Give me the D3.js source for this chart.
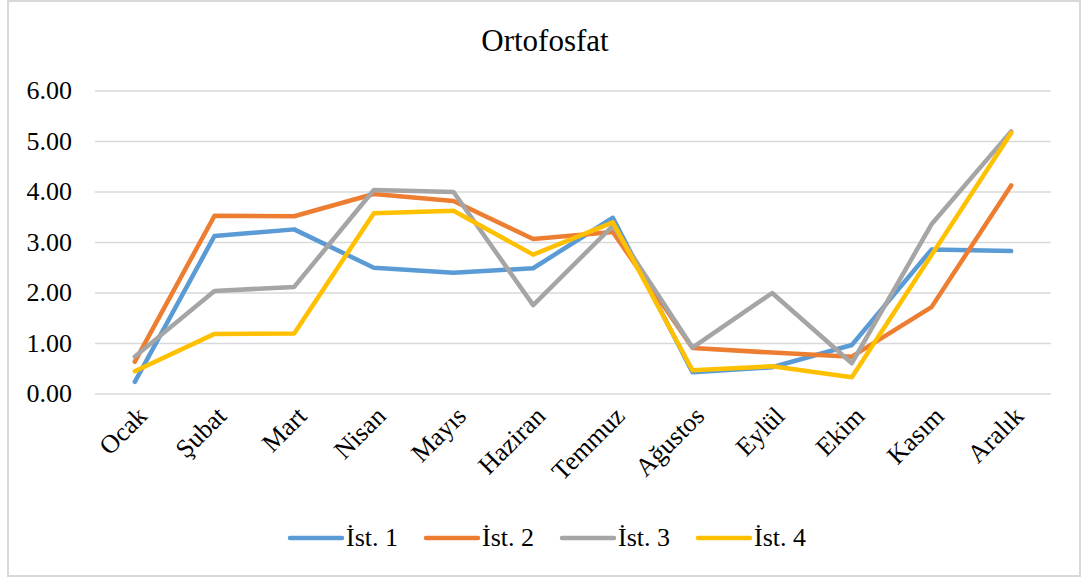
<!DOCTYPE html>
<html>
<head>
<meta charset="utf-8">
<script src="https://cdn.jsdelivr.net/npm/d3@7"></script>
<style>
  body { margin: 0; background: #fff; }
  #wrap { position: relative; width: 1084px; height: 578px; }
  #wrap svg { position: absolute; left: 0; top: 0; }
  .lbl {
    position: absolute;
    height: 0;
    line-height: 0;
    white-space: nowrap;
    font-family: 'Liberation Serif', 'Times New Roman', serif;
    color: #000;
  }
</style>
</head>
<body>
<div id="wrap"><svg id="chart" width="1084" height="578"></svg></div>
<script>
// months on the x axis
var months = ['Ocak', 'Şubat', 'Mart', 'Nisan', 'Mayıs', 'Haziran', 'Temmuz', 'Ağustos', 'Eylül', 'Ekim', 'Kasım', 'Aralık']
var seriesNames = ['İst. 1', 'İst. 2', 'İst. 3', 'İst. 4']
var ist1 = [0.24, 3.13, 3.26, 2.50, 2.40, 2.49, 3.49, 0.43, 0.53, 0.97, 2.86, 2.83]
var ist2 = [0.64, 3.53, 3.52, 3.96, 3.82, 3.07, 3.21, 0.91, 0.82, 0.74, 1.72, 4.13]
var ist3 = [0.74, 2.04, 2.12, 4.04, 4.00, 1.76, 3.33, 0.92, 2.00, 0.61, 3.36, 5.20]
var ist4 = [0.45, 1.19, 1.20, 3.58, 3.63, 2.76, 3.40, 0.47, 0.55, 0.33, 2.75, 5.17]
var yTicks = [0, 1, 2, 3, 4, 5, 6]
var colors = ['#5B9BD5', '#ED7D31', '#A5A5A5', '#FFC000']

var wrap = d3.select('#wrap')
var svg = d3.select('#chart')

// outer chart border
svg.append('rect')
   .attr('x', 8).attr('y', 1)
   .attr('width', 1072).attr('height', 575)
   .attr('fill', '#fff')
   .attr('stroke', '#d9d9d9')
   .attr('stroke-width', 2)

var plotLeft = 95, plotRight = 1051, plotTop = 91, plotBottom = 394

var xScale = d3.scalePoint().domain(months).range([plotLeft, plotRight]).padding(0.5)
var yScale = d3.scaleLinear().domain([0, 6]).range([plotBottom, plotTop])

// title (html text, vertically centred on top)
wrap.append('div')
   .attr('class', 'lbl')
   .style('left', '545px')
   .style('top', '41px')
   .style('font-size', '31px')
   .style('transform', 'translateX(-50%)')
   .text('Ortofosfat')

// gridlines
svg.append('g')
   .selectAll('line')
   .data(yTicks)
   .join('line')
   .attr('x1', plotLeft).attr('x2', plotRight)
   .attr('y1', d => yScale(d)).attr('y2', d => yScale(d))
   .attr('stroke', '#d9d9d9')
   .attr('stroke-width', 1.5)

// y tick labels
var fmt = d3.format('.2f')
wrap.selectAll('.ytick')
   .data(yTicks)
   .join('div')
   .attr('class', 'lbl ytick')
   .style('right', (1084 - (plotLeft - 23)) + 'px')
   .style('top', d => yScale(d) + 'px')
   .style('font-size', '26px')
   .text(d => fmt(d))

// x labels, rotated about their right end
wrap.selectAll('.xtick')
   .data(months)
   .join('div')
   .attr('class', 'lbl xtick')
   .style('right', d => (1084 - (xScale(d) + 8)) + 'px')
   .style('top', '412px')
   .style('font-size', '26px')
   .style('transform-origin', '100% 0')
   .style('transform', 'rotate(-45deg)')
   .text(d => d)

var allSeries = [ist1, ist2, ist3, ist4]
var line = d3.line()
   .x((d, i) => xScale(months[i]))
   .y(d => yScale(d))

svg.append('g')
   .selectAll('path')
   .data(allSeries)
   .join('path')
   .attr('d', d => line(d))
   .attr('fill', 'none')
   .attr('stroke', (d, i) => colors[i])
   .attr('stroke-width', 4.5)
   .attr('stroke-linecap', 'round')
   .attr('stroke-linejoin', 'round')

// legend
svg.append('g')
   .selectAll('line')
   .data(seriesNames)
   .join('line')
   .attr('x1', (d, i) => 290 + i * 136)
   .attr('x2', (d, i) => 342 + i * 136)
   .attr('y1', 538).attr('y2', 538)
   .attr('stroke', (d, i) => colors[i])
   .attr('stroke-width', 4.5)
   .attr('stroke-linecap', 'round')

wrap.selectAll('.leg')
   .data(seriesNames)
   .join('div')
   .attr('class', 'lbl leg')
   .style('left', (d, i) => (346 + i * 136) + 'px')
   .style('top', '538px')
   .style('font-size', '26px')
   .text(d => d)
</script>
</body>
</html>
